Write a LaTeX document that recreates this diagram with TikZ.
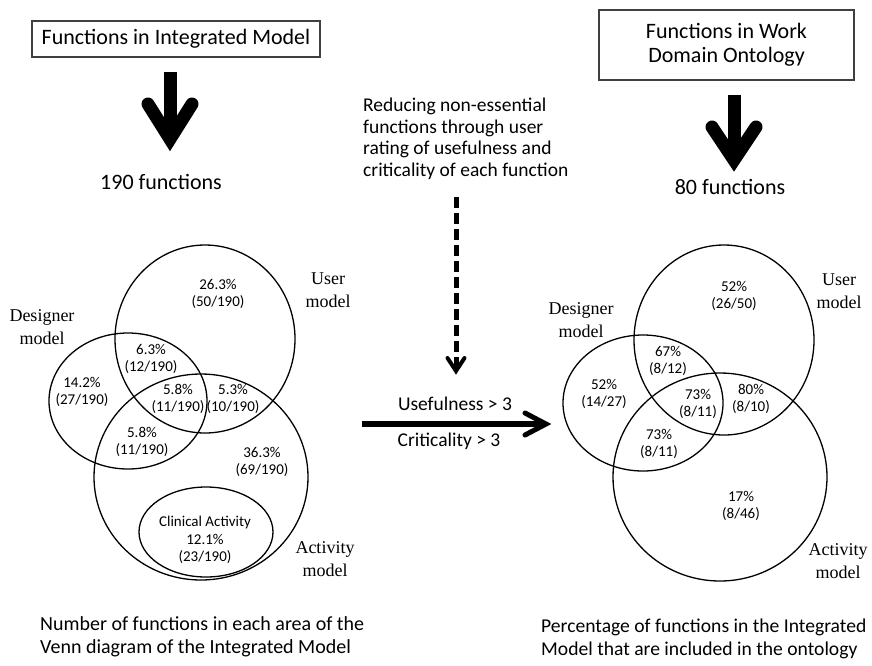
\documentclass[tikz,border=0pt]{standalone}
\usepackage{fontspec}
\setmainfont{Carlito}
\newfontfamily\serifface{Liberation Serif}
\begin{document}
\begin{tikzpicture}[x=1pt,y=-1pt,
  titlebox/.style={draw=black!75, line width=1.1pt, inner sep=0pt, align=center, font=\fontsize{22}{24}\selectfont},
  bigtxt/.style={inner sep=0pt, font=\fontsize{22}{24}\selectfont},
  midtxt/.style={inner sep=0pt, align=left, font=\fontsize{19.5}{21.5}\selectfont},
  capttxt/.style={inner sep=0pt, align=left, anchor=west, font=\fontsize{20}{22.5}\selectfont},
  condtxt/.style={inner sep=0pt, font=\fontsize{19.5}{22}\selectfont},
  numtxt/.style={inner sep=0pt, align=center, font=\fontsize{15}{17.5}\selectfont},
  labtxt/.style={inner sep=0pt, align=center, font=\serifface\fontsize{18}{22.5}\selectfont},
  vennline/.style={line width=1.3pt, draw=black},
  fatshaft/.style={line width=13pt, line cap=butt},
  fathead/.style={line width=13pt, line cap=round, line join=miter},
  thinhead/.style={line width=5pt, line cap=round, line join=miter}
]
\useasboundingbox (0,0) rectangle (872,665);
\fill[white] (0,0) rectangle (872,665);

% ---------- title boxes ----------
\node[titlebox, minimum width=288pt, minimum height=36pt] (lbox) at (176,39) {Functions in Integrated Model};
\node[titlebox, minimum width=255pt, minimum height=70pt] (rbox) at (726.5,45) {Functions in Work\\Domain Ontology};

% ---------- counts ----------
\node[bigtxt] (n190) at (161,182) {190 functions};
\node[bigtxt] (n80) at (730,187) {80 functions};

% ---------- big down arrows ----------
\coordinate (la1) at (170,72);
\coordinate (la2) at (170,135);
\coordinate (lw1) at (148,104);
\coordinate (lj) at (170,139);
\coordinate (lw2) at (192,104);
\draw[fatshaft] (la1) -- (la2);
\draw[fathead] (lw1) -- (lj) -- (lw2);

\coordinate (ra1) at (734,95);
\coordinate (ra2) at (734,155);
\coordinate (rw1) at (712,127);
\coordinate (rj) at (734,160);
\coordinate (rw2) at (756,127);
\draw[fatshaft] (ra1) -- (ra2);
\draw[fathead] (rw1) -- (rj) -- (rw2);

% ---------- middle explanation ----------
\node[midtxt, anchor=north west] (reduce) at (363,98) {Reducing non-essential\\functions through user\\rating of usefulness and\\criticality of each function};

\coordinate (d1) at (456,197);
\coordinate (d2) at (456,368);
\draw[line width=5pt, dash pattern=on 11pt off 5pt] (d1) -- (d2);
\coordinate (dw1) at (447.5,358);
\coordinate (dj) at (456,371);
\coordinate (dw2) at (464.5,358);
\draw[line width=4pt, line cap=round, line join=miter] (dw1) -- (dj) -- (dw2);

% ---------- horizontal arrow ----------
\coordinate (h1) at (362,424);
\coordinate (h2) at (545,424);
\draw[line width=6pt] (h1) -- (h2);
\coordinate (hw1) at (525,413);
\coordinate (hj) at (546,424);
\coordinate (hw2) at (525,435);
\draw[thinhead] (hw1) -- (hj) -- (hw2);
\node[condtxt] (useful) at (455,404) {Usefulness > 3};
\node[condtxt] (critic) at (449,441) {Criticality > 3};

% ---------- left Venn ----------
\draw[vennline] (205,339) ellipse [x radius=90, y radius=94];
\draw[vennline] (128,401) ellipse [x radius=79, y radius=68];
\draw[vennline] (201,477) ellipse [x radius=107, y radius=103];
\draw[vennline] (206,532) ellipse [x radius=67, y radius=45];

\node[numtxt] (l1) at (218,294) {26.3\%\\(50/190)};
\node[numtxt] (l2) at (151,359) {6.3\%\\(12/190)};
\node[numtxt] (l3) at (82,392) {14.2\%\\(27/190)};
\node[numtxt] (l4) at (178,399) {5.8\%\\(11/190)};
\node[numtxt] (l5) at (233,399) {5.3\%\\(10/190)};
\node[numtxt] (l6) at (142,442) {5.8\%\\(11/190)};
\node[numtxt] (l7) at (262,462) {36.3\%\\(69/190)};
\node[numtxt] (l8) at (205,540) {Clinical Activity\\12.1\%\\(23/190)};

\node[labtxt] (lu) at (328,290) {User\\model};
\node[labtxt] (ld) at (42,327) {Designer\\model};
\node[labtxt] (la) at (325,559) {Activity\\model};

% ---------- right Venn ----------
\draw[vennline] (724,340) ellipse [x radius=90, y radius=95];
\draw[vennline] (643,403) ellipse [x radius=80, y radius=68];
\draw[vennline] (720,477) ellipse [x radius=107, y radius=104];

\node[numtxt] (r1) at (734,296) {52\%\\(26/50)};
\node[numtxt] (r2) at (668,361) {67\%\\(8/12)};
\node[numtxt] (r3) at (604,394) {52\%\\(14/27)};
\node[numtxt] (r4) at (698,404) {73\%\\(8/11)};
\node[numtxt] (r5) at (751,399) {80\%\\(8/10)};
\node[numtxt] (r6) at (659,444) {73\%\\(8/11)};
\node[numtxt] (r7) at (741,506) {17\%\\(8/46)};

\node[labtxt] (ru) at (839,291) {User\\model};
\node[labtxt] (rd) at (581,320) {Designer\\model};
\node[labtxt] (ra) at (838,561) {Activity\\model};

% ---------- captions ----------
\node[capttxt] (capl) at (40,637) {Number of functions in each area of the\\Venn diagram of the Integrated Model};
\node[capttxt, font=\fontsize{19.6}{22.5}\selectfont] (capr) at (541,639) {Percentage of functions in the Integrated\\Model that are included in the ontology};
\end{tikzpicture}
\end{document}
